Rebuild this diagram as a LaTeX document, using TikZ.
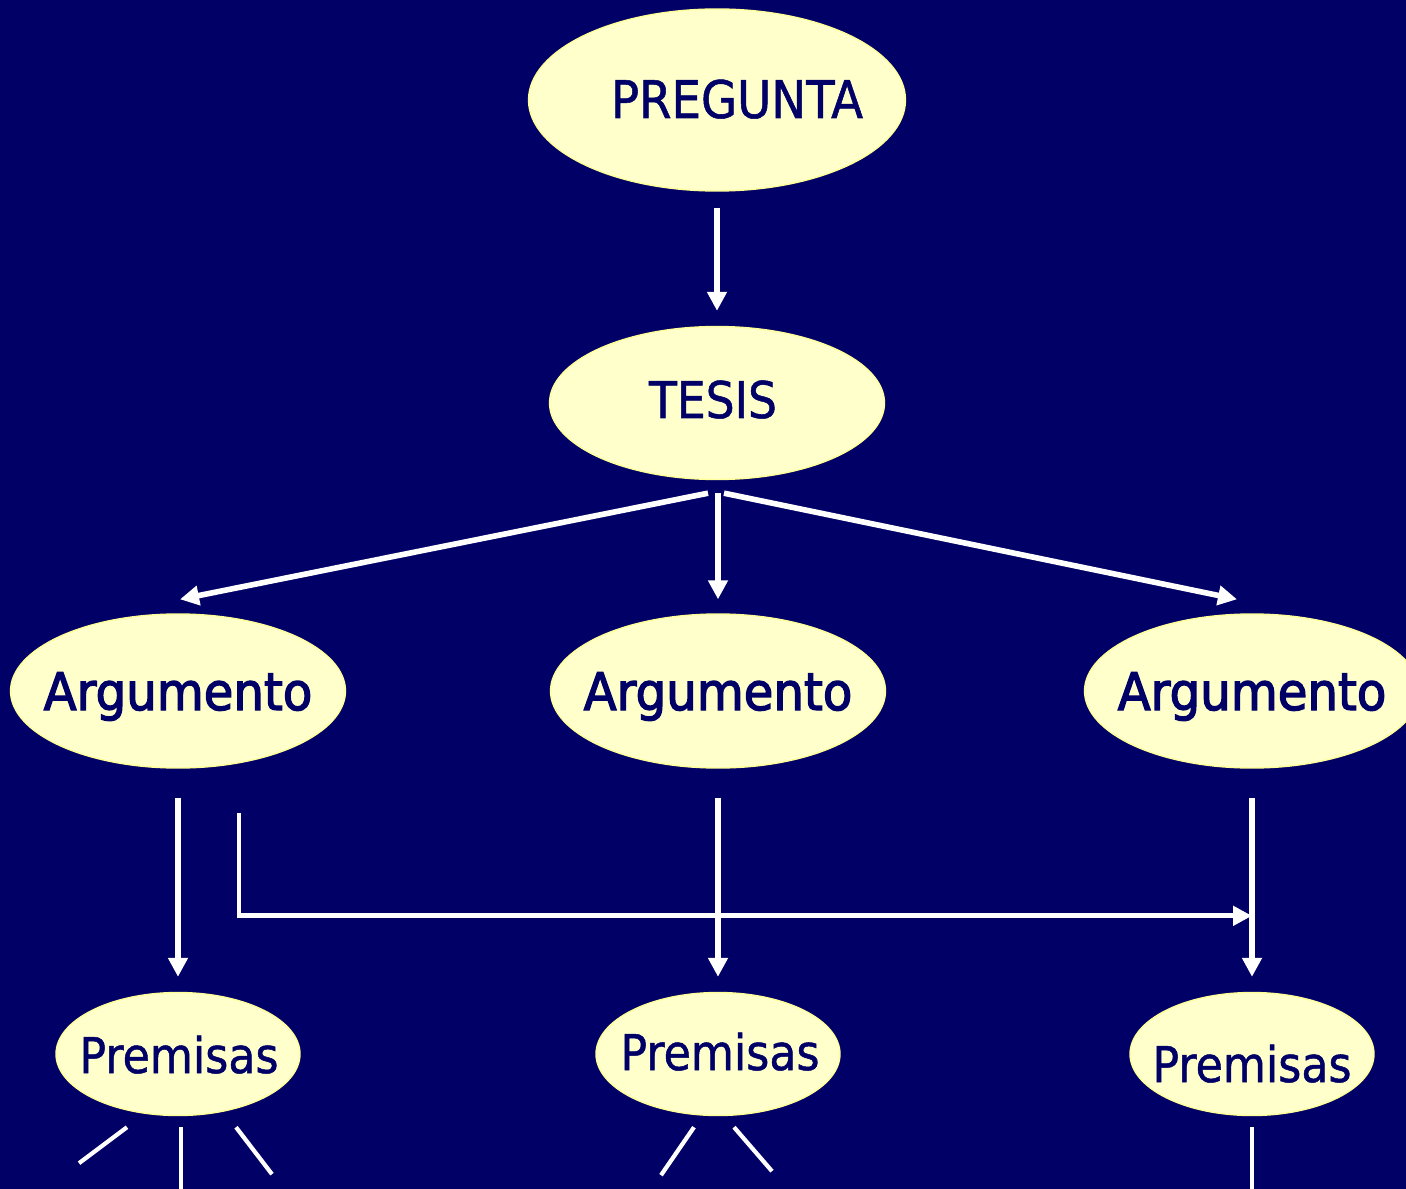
\documentclass[tikz,border=0pt]{standalone}
\usepackage{fontspec}
\setmainfont{DejaVu Sans}[FakeStretch=0.9, FakeBold=1]
\newfontfamily\gruesa{DejaVu Sans}[FakeStretch=0.93, FakeBold=2.5]
\usetikzlibrary{shapes.geometric, arrows.meta}

\definecolor{fondo}{HTML}{000066}
\definecolor{crema}{HTML}{FFFFCC}
\definecolor{borde}{HTML}{FFFF99}

\tikzset{
  burbuja/.style={ellipse, draw=borde, line width=0.8pt, fill=crema, inner sep=0pt},
  grande/.style={burbuja, minimum width=6.7cm, minimum height=3.08cm},
  chica/.style={burbuja, minimum width=4.88cm, minimum height=2.46cm},
  rotulo/.style={anchor=base, text=fondo, inner sep=0pt, font=\fontsize{29.5}{32}\selectfont},
  rotulochico/.style={rotulo, font=\fontsize{28}{30}\selectfont},
  flecha/.style={draw=white, line width=3.2pt, -{Triangle[length=0.38cm, width=0.38cm]}},
  raya/.style={draw=white, line width=2.4pt}
}

\begin{document}
\begin{tikzpicture}[x=0.02cm, y=-0.02cm]
    \fill[fondo] (0,0) rectangle (1406,1189);
    \useasboundingbox (0,0) rectangle (1406,1189);

    % burbujas
    \node[burbuja, minimum width=7.54cm, minimum height=3.64cm] (pregunta) at (717,100) {};
    \node[burbuja, minimum width=6.7cm, minimum height=3.06cm] (tesis) at (717,403) {};
    \node[grande] (argA) at (178,691) {};
    \node[grande] (argB) at (718,691) {};
    \node[grande] (argC) at (1252,691) {};
    \node[chica] (premA) at (178,1054) {};
    \node[chica] (premB) at (718,1054) {};
    \node[chica] (premC) at (1252,1054) {};

    % textos
    \node[rotulo] at ([xshift=0.4cm, yshift=-0.36cm]pregunta) {PREGUNTA};
    \node[rotulo, font=\fontsize{28.8}{31}\selectfont] at ([xshift=-0.08cm, yshift=-0.3cm]tesis) {TESIS};
    \node[rotulo, font=\gruesa\fontsize{29.5}{32}\selectfont] at ([yshift=-0.38cm]argA) {Argumento};
    \node[rotulo, font=\gruesa\fontsize{29.5}{32}\selectfont] at ([yshift=-0.38cm]argB) {Argumento};
    \node[rotulo, font=\gruesa\fontsize{29.5}{32}\selectfont] at ([yshift=-0.38cm]argC) {Argumento};
    \node[rotulochico] at ([xshift=0.02cm, yshift=-0.38cm]premA) {Premisas};
    \node[rotulochico] at ([xshift=0.04cm, yshift=-0.32cm]premB) {Premisas};
    \node[rotulochico] at ([yshift=-0.56cm]premC) {Premisas};

    % flechas
    \draw[flecha, shorten <=0.32cm, shorten >=0.3cm] (pregunta) -- (tesis);
    \draw[flecha] ([xshift=-0.18cm, yshift=-0.26cm]tesis.south) -- ([xshift=0.04cm, yshift=0.28cm]argA.north);
    \draw[flecha] ([xshift=0.02cm, yshift=-0.26cm]tesis.south) -- ([yshift=0.28cm]argB.north);
    \draw[flecha] ([xshift=0.14cm, yshift=-0.26cm]tesis.south) -- ([xshift=-0.3cm, yshift=0.28cm]argC.north);
    \draw[flecha, shorten <=0.58cm, shorten >=0.3cm] (argA.south) -- (premA.north);
    \draw[flecha, shorten <=0.58cm, shorten >=0.3cm] (argB.south) -- (premB.north);
    \draw[flecha, shorten <=0.58cm, shorten >=0.3cm] (argC.south) -- (premC.north);
    \draw[flecha, line width=2.8pt] ([xshift=1.22cm, yshift=-0.88cm]argA.south) |- ([yshift=1.52cm]premC.north);

    % rayas sueltas
    \draw[raya] ([xshift=-1.02cm, yshift=-0.22cm]premA.south) -- ([xshift=-1.98cm, yshift=-0.94cm]premA.south);
    \draw[raya] ([xshift=0.06cm, yshift=-0.22cm]premA.south) -- ([xshift=0.06cm, yshift=-1.5cm]premA.south);
    \draw[raya] ([xshift=1.16cm, yshift=-0.22cm]premA.south) -- ([xshift=1.88cm, yshift=-1.16cm]premA.south);
    \draw[raya] ([xshift=-0.48cm, yshift=-0.22cm]premB.south) -- ([xshift=-1.14cm, yshift=-1.18cm]premB.south);
    \draw[raya] ([xshift=0.32cm, yshift=-0.22cm]premB.south) -- ([xshift=1.08cm, yshift=-1.1cm]premB.south);
    \draw[raya] ([yshift=-0.22cm]premC.south) -- ([yshift=-1.5cm]premC.south);
\end{tikzpicture}
\end{document}
